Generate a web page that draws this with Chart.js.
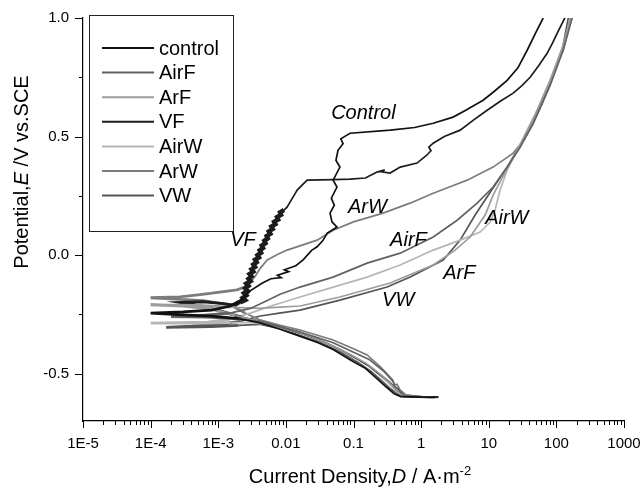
<!DOCTYPE html>
<html lang="en">
<head>
<meta charset="UTF-8">
<title>Potentiodynamic polarization curves</title>
<script src="https://cdn.jsdelivr.net/npm/chart.js"></script>
<style>
  body { margin: 0; background: #fff; }
  #wrap { width: 641px; height: 490px; }
</style>
</head>
<body>
<div id="wrap"><canvas id="tafel" width="641" height="490"></canvas></div>
<script>
// [current density A/m2, potential V vs SCE]
const controlData = [[1.6,-0.600],[0.9,-0.599],[0.5,-0.597],[0.40,-0.585],[0.30,-0.555],[0.22,-0.520],[0.15,-0.478],[0.10,-0.450],[0.05,-0.398],[0.03,-0.370],[0.016,-0.342],[0.008,-0.312],[0.004,-0.285],[0.002,-0.268],[0.0008,-0.258],[0.0003,-0.252],[0.0001,-0.245],
  [0.0003,-0.240],[0.0008,-0.232],[0.0015,-0.215],[0.0022,-0.190],[0.003,-0.150],[0.0045,-0.118],[0.006,-0.100],[0.0085,-0.095],[0.0075,-0.085],[0.011,-0.070],[0.0095,-0.062],[0.014,-0.045],[0.018,-0.020],[0.024,0.020],[0.029,0.035],[0.035,0.060],[0.041,0.093],[0.057,0.118],[0.048,0.140],[0.045,0.177],[0.052,0.210],[0.047,0.240],[0.057,0.287],[0.050,0.316],[0.063,0.371],[0.055,0.400],[0.059,0.442],[0.070,0.470],[0.065,0.490],[0.080,0.506],[0.089,0.514],[0.35,0.527],[0.8,0.538],[1.51,0.556],[2.97,0.582],[4.5,0.610],[8.26,0.653],[12,0.690],[18.7,0.737],[27,0.790],[37,0.864],[50,0.940],[63.8,1.000]];
const airFData = [[1.5,-0.600],[0.85,-0.598],[0.55,-0.592],[0.46,-0.565],[0.41,-0.555],[0.39,-0.535],[0.28,-0.490],[0.17,-0.440],[0.10,-0.410],[0.05,-0.370],[0.029,-0.348],[0.015,-0.322],[0.0075,-0.300],[0.0038,-0.280],[0.0018,-0.268],[0.0007,-0.262],[0.0002,-0.260],
  [0.0005,-0.256],[0.0015,-0.245],[0.003,-0.225],[0.0055,-0.190],[0.0082,-0.165],[0.0162,-0.135],[0.05,-0.093],[0.159,-0.034],[0.49,0.008],[1.51,0.076],[3.41,0.147],[6.73,0.219],[11.6,0.287],[18.7,0.371],[29.1,0.455],[45.4,0.556],[80.9,0.716],[126,0.864],[171,1.000]];
const arFData = [[1.2,-0.598],[0.75,-0.595],[0.5,-0.588],[0.42,-0.565],[0.32,-0.530],[0.23,-0.495],[0.15,-0.455],[0.09,-0.420],[0.05,-0.385],[0.027,-0.350],[0.014,-0.322],[0.007,-0.298],[0.0035,-0.275],[0.0018,-0.255],[0.0008,-0.228],[0.0003,-0.215],[0.0001,-0.210],
  [0.0005,-0.212],[0.0015,-0.220],[0.004,-0.225],[0.0082,-0.220],[0.0162,-0.215],[0.063,-0.177],[0.348,-0.118],[1.51,-0.042],[3.18,0.021],[5.31,0.076],[8.85,0.169],[11.6,0.253],[17.5,0.350],[29.1,0.464],[48.6,0.590],[80.9,0.737],[126,0.885],[160,1.000]];
const vFData = [[1.8,-0.598],[1.0,-0.597],[0.55,-0.592],[0.44,-0.570],[0.34,-0.535],[0.25,-0.505],[0.17,-0.468],[0.11,-0.435],[0.06,-0.395],[0.03,-0.355],[0.016,-0.328],[0.008,-0.302],[0.004,-0.278],[0.0022,-0.262],[0.0012,-0.240],[0.0006,-0.218],[0.00027,-0.200],
  [0.0006,-0.197],[0.0012,-0.205],[0.0018,-0.212],[0.0021,-0.200],[0.0025,-0.190],[0.0023,-0.180],[0.0026,-0.170],[0.0024,-0.160],[0.0027,-0.150],[0.0025,-0.140],[0.0028,-0.130],[0.0026,-0.120],[0.0030,-0.110],[0.0028,-0.100],[0.0031,-0.090],[0.0029,-0.080],[0.0033,-0.070],[0.0031,-0.060],[0.0035,-0.050],[0.0033,-0.040],[0.0037,-0.030],[0.0035,-0.020],[0.0040,-0.010],[0.0038,0.000],[0.0043,0.010],[0.0041,0.020],[0.0046,0.030],[0.0044,0.040],[0.0050,0.050],[0.0048,0.060],[0.0054,0.070],[0.0052,0.080],[0.0059,0.090],[0.0056,0.100],[0.0064,0.110],[0.0061,0.120],[0.0070,0.130],[0.0067,0.140],[0.0077,0.150],[0.0074,0.160],[0.0085,0.170],[0.0082,0.180],[0.0094,0.190],[0.0104,0.202],[0.0125,0.240],[0.0147,0.274],[0.0206,0.316],[0.05,0.318],[0.089,0.320],[0.15,0.325],[0.223,0.350],[0.29,0.360],[0.25,0.352],[0.348,0.346],[0.49,0.371],[0.87,0.388],[1.2,0.420],[1.4,0.440],[1.3,0.455],[1.51,0.472],[2.2,0.500],[3.78,0.527],[6,0.570],[9.47,0.611],[15,0.650],[23,0.683],[31,0.715],[40.9,0.750],[55,0.800],[73,0.851],[88,0.895],[103,0.936],[135,1.003]];
const airWData = [[1.3,-0.600],[0.8,-0.597],[0.52,-0.590],[0.43,-0.575],[0.33,-0.540],[0.24,-0.505],[0.16,-0.462],[0.10,-0.430],[0.055,-0.392],[0.028,-0.353],[0.014,-0.325],[0.007,-0.302],[0.0035,-0.285],[0.0015,-0.285],[0.0006,-0.287],[0.0001,-0.287],
  [0.0007,-0.283],[0.0015,-0.270],[0.003,-0.245],[0.006,-0.215],[0.0162,-0.177],[0.05,-0.135],[0.159,-0.093],[0.49,-0.042],[1.51,0.021],[3.78,0.063],[7.46,0.097],[10.5,0.139],[12.4,0.190],[14.7,0.274],[18.7,0.358],[31.2,0.485],[52,0.611],[86.7,0.759],[135,0.906],[171,1.000]];
const arWData = [[1.7,-0.598],[0.95,-0.597],[0.6,-0.590],[0.49,-0.570],[0.44,-0.545],[0.40,-0.548],[0.38,-0.527],[0.25,-0.472],[0.159,-0.421],[0.10,-0.395],[0.05,-0.358],[0.0162,-0.316],[0.008,-0.295],[0.004,-0.272],[0.0025,-0.245],[0.0015,-0.210],[0.0006,-0.192],[0.0002,-0.185],[0.0001,-0.180],
  [0.00027,-0.176],[0.0005,-0.168],[0.00076,-0.162],[0.0012,-0.154],[0.0019,-0.147],[0.0024,-0.136],[0.00295,-0.118],[0.0036,-0.085],[0.0042,-0.055],[0.0053,-0.021],[0.0075,0.002],[0.0104,0.021],[0.029,0.063],[0.05,0.105],[0.10,0.140],[0.274,0.177],[0.7,0.220],[1.51,0.261],[2.8,0.290],[4.79,0.316],[11.6,0.371],[23,0.430],[34,0.490],[45.4,0.556],[62,0.640],[80.9,0.725],[100,0.800],[126,0.864],[145,0.930],[160,1.000]];
const vWData = [[1.8,-0.600],[1.0,-0.599],[0.55,-0.596],[0.44,-0.585],[0.34,-0.560],[0.26,-0.530],[0.18,-0.490],[0.12,-0.455],[0.06,-0.405],[0.03,-0.365],[0.016,-0.338],[0.0085,-0.310],[0.004,-0.292],[0.002,-0.297],[0.0008,-0.302],[0.00017,-0.305],
  [0.0004,-0.300],[0.001,-0.292],[0.0021,-0.280],[0.0042,-0.257],[0.008,-0.245],[0.0162,-0.232],[0.063,-0.190],[0.314,-0.135],[0.69,-0.093],[2.12,-0.021],[3.78,0.063],[6.29,0.169],[10.5,0.265],[18.7,0.371],[29.1,0.464],[48.6,0.590],[80.9,0.729],[122,0.864],[150,1.000]];

const seriesNames = ['control', 'AirF', 'ArF', 'VF', 'AirW', 'ArW', 'VW'];
const seriesColors = ['#111111', '#626262', '#9c9c9c', '#1c1c1c', '#b6b6b6', '#7c7c7c', '#555555'];
const seriesData = [controlData, airFData, arFData, vFData, airWData, arWData, vWData];

const xTicks = [1e-5, 1e-4, 1e-3, 0.01, 0.1, 1, 10, 100, 1000];
const xTickLabels = ['1E-5', '1E-4', '1E-3', '0.01', '0.1', '1', '10', '100', '1000'];
const yTicks = [-0.5, 0, 0.5, 1.0];
const yTickLabels = ['-0.5', '0.0', '0.5', '1.0'];
const yMinorTicks = [-0.25, 0.25, 0.75];

// curve labels written inside the plot (left edge, middle)
const curveLabels = [
  { text: 'Control', x: 0.0467, y: 0.598 },
  { text: 'ArW', x: 0.083, y: 0.202 },
  { text: 'AirF', x: 0.348, y: 0.063 },
  { text: 'AirW', x: 8.85, y: 0.156 },
  { text: 'ArF', x: 2.12, y: -0.076 },
  { text: 'VW', x: 0.265, y: -0.19 },
  { text: 'VF', x: 0.0015, y: 0.063 }
];

const FONT = 'Arial, "Liberation Sans", sans-serif';

// minor log ticks 2..9 in each decade
const xMinorTicks = [];
for (let i = 0; i < xTicks.length - 1; i++) {
  for (let m = 2; m <= 9; m++) xMinorTicks.push(xTicks[i] * m);
}

// noisy low-current parts of the scans look heavier in the original
const heavySegment = name => c => {
  const a = c.p0.parsed, b = c.p1.parsed;
  if (name === 'VF' && a.x < 0.011 && a.x > 0.0019 && a.y > -0.21 && a.y < 0.19) return 4.5;
  if (a.x < 0.003 && b.x < 0.003) return 2.8;
  return undefined;
};

const decorations = {
  id: 'decorations',
  afterDraw(chart) {
    const { ctx, chartArea: a, scales: { x, y } } = chart;
    ctx.save();
    ctx.strokeStyle = '#000';
    ctx.lineWidth = 1;
    ctx.beginPath();
    xTicks.forEach(v => { const p = Math.round(x.getPixelForValue(v)) + 0.5; ctx.moveTo(p, a.bottom); ctx.lineTo(p, a.bottom + 7); });
    xMinorTicks.forEach(v => { const p = Math.round(x.getPixelForValue(v)) + 0.5; ctx.moveTo(p, a.bottom); ctx.lineTo(p, a.bottom + 4); });
    yTicks.forEach(v => { const p = Math.round(y.getPixelForValue(v)) + 0.5; ctx.moveTo(a.left, p); ctx.lineTo(a.left - 8, p); });
    yMinorTicks.forEach(v => { const p = Math.round(y.getPixelForValue(v)) + 0.5; ctx.moveTo(a.left, p); ctx.lineTo(a.left - 4, p); });
    ctx.stroke();

    // legend box
    ctx.strokeStyle = '#222';
    ctx.strokeRect(89.5, 15.5, 144, 216);
    ctx.textBaseline = 'middle';
    ctx.textAlign = 'left';
    ctx.font = '20px ' + FONT;
    chart.data.datasets.forEach((ds, i) => {
      const ly = 48 + i * 24.6;
      ctx.strokeStyle = ds.borderColor;
      ctx.lineWidth = 2;
      ctx.beginPath();
      ctx.moveTo(102, ly);
      ctx.lineTo(154, ly);
      ctx.stroke();
      ctx.fillStyle = '#000';
      ctx.fillText(ds.label, 159, ly + 1);
    });

    // italic curve names
    ctx.font = 'italic 20px ' + FONT;
    curveLabels.forEach(l => {
      ctx.fillText(l.text, x.getPixelForValue(l.x), y.getPixelForValue(l.y));
    });

    // axis titles with italic symbols and superscript
    const drawParts = (parts, cx, baseline) => {
      let w = 0;
      parts.forEach(p => { ctx.font = p.font; w += ctx.measureText(p.t).width; });
      let px = cx - w / 2;
      ctx.textBaseline = 'alphabetic';
      parts.forEach(p => {
        ctx.font = p.font;
        ctx.fillText(p.t, px, baseline - (p.up || 0));
        px += ctx.measureText(p.t).width;
      });
    };
    const n = '20px ' + FONT, it = 'italic 20px ' + FONT;
    drawParts([
      { t: 'Current Density,', font: n },
      { t: 'D', font: it },
      { t: ' / A\u00b7m', font: n },
      { t: '-2', font: '13px ' + FONT, up: 8 }
    ], 360, 483);

    ctx.save();
    ctx.translate(28, 172);
    ctx.rotate(-Math.PI / 2);
    drawParts([
      { t: 'Potential,', font: n },
      { t: 'E', font: it },
      { t: ' /V vs.SCE', font: n }
    ], 0, 0);
    ctx.restore();
    ctx.restore();
  }
};

new Chart(document.getElementById('tafel'), {
  type: 'scatter',
  data: {
    datasets: seriesNames.map((name, i) => ({
      label: name,
      data: seriesData[i].map(p => ({ x: p[0], y: p[1] })),
      showLine: true,
      borderColor: seriesColors[i],
      backgroundColor: seriesColors[i],
      borderWidth: 1.7,
      pointRadius: 0,
      tension: 0,
      segment: { borderWidth: heavySegment(name) }
    }))
  },
  options: {
    responsive: false,
    animation: false,
    devicePixelRatio: 1,
    layout: { padding: { left: 0, right: 17, top: 18, bottom: 0 } },
    plugins: { legend: { display: false }, tooltip: { enabled: false } },
    scales: {
      x: {
        type: 'logarithmic',
        min: 1e-5,
        max: 1000,
        afterBuildTicks: s => { s.ticks = xTicks.map(v => ({ value: v })); },
        afterFit: s => { s.height = 69; s.paddingLeft = 0; s.paddingRight = 0; },
        grid: { display: false, drawTicks: false },
        border: { display: true, color: '#000', width: 1.2 },
        ticks: {
          autoSkip: false,
          maxRotation: 0,
          padding: 14,
          color: '#000',
          font: { family: FONT, size: 15 },
          callback: (v, i) => xTickLabels[i]
        }
      },
      y: {
        min: -0.7,
        max: 1.0,
        afterBuildTicks: s => { s.ticks = yTicks.map(v => ({ value: v })); },
        afterFit: s => { s.width = 83; s.paddingTop = 0; s.paddingBottom = 0; },
        grid: { display: false, drawTicks: false },
        border: { display: true, color: '#000', width: 1.2 },
        ticks: {
          padding: 14,
          color: '#000',
          font: { family: FONT, size: 15 },
          callback: (v, i) => yTickLabels[i]
        }
      }
    }
  },
  plugins: [decorations]
});
</script>
</body>
</html>
